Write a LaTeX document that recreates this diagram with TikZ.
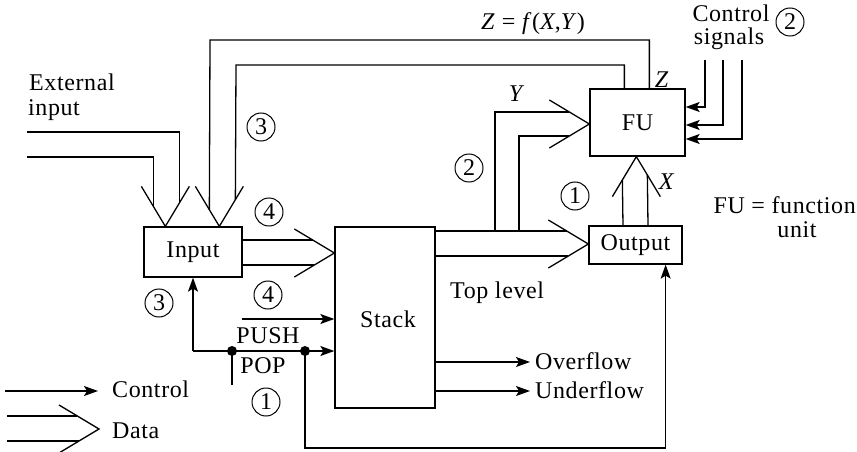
\documentclass[tikz,border=0pt]{standalone}
\usepackage{fontspec}
\setmainfont{Liberation Serif}[LetterSpace=2.5]
\usetikzlibrary{arrows.meta,calc}
\begin{document}
\begin{tikzpicture}[x=1pt,y=-1pt,
  every node/.style={font=\fontsize{24}{24}\selectfont},
  ln/.style={line width=1.3pt},
  ctl/.style={ln,-{Stealth[length=14pt,width=10pt,inset=3pt]}},
  box/.style={draw,line width=1.3pt,inner sep=0pt},
  circ/.style={draw,circle,line width=1pt,minimum size=28pt,inner sep=0pt},
  txt/.style={inner sep=0pt}]
\useasboundingbox (0,0) rectangle (857,452);

% ---- blocks
\node[box,minimum width=98pt,minimum height=50pt] (input) at (193,252) {Input};
\node[box,minimum width=100pt,minimum height=181pt] (stack) at (385,317.5) {};
\node[txt] (stacklbl) at (388,319) {Stack};
\node[box,minimum width=93pt,minimum height=38pt] (output) at (635.5,245) {Output};
\node[box,minimum width=95pt,minimum height=67pt] (fu) at (637.5,122.5) {FU};

% ---- external input (data)
\coordinate (ext1) at (27,132);
\coordinate (ext2) at (27,157);
\coordinate (vA) at ($(input.north west)+(22,0)$);
\draw[ln] ($(vA)+(-24,-40)$) -- (vA) -- ($(vA)+(24,-40)$);
\draw[ln] (ext1) -| ($(vA)+(14,-23.3)$);
\draw[ln] (ext2) -| ($(vA)+(-12,-20)$);

% ---- Z feedback from FU to Input (data)
\coordinate (vB) at ($(input.north west)+(76,0)$);
\draw[ln] ($(vB)+(-24,-40)$) -- (vB) -- ($(vB)+(24,-40)$);
\draw[ln] ($(fu.north west)+(60,0)$) |- (210,40) -- ($(vB)+(-10,-16.7)$);
\draw[ln] ($(fu.north west)+(35,0)$) |- (236,65) -- ($(vB)+(16,-26.7)$);

% ---- Input -> Stack (data)
\coordinate (vC) at (stack.west |- 0,253);
\draw[ln] ($(vC)+(-40,-24)$) -- (vC) -- ($(vC)+(-40,24)$);
\draw[ln] (input.east |- 0,240) -- ($(vC)+(-21.7,-13)$);
\draw[ln] (input.east |- 0,265) -- ($(vC)+(-20,12)$);

% ---- Stack -> Output (data)
\coordinate (vD) at (output.west |- 0,244);
\draw[ln] ($(vD)+(-40,-24)$) -- (vD) -- ($(vD)+(-40,24)$);
\draw[ln] (stack.east |- 0,231) -- ($(vD)+(-21.7,-13)$);
\draw[ln] (stack.east |- 0,256) -- ($(vD)+(-20,12)$);

% ---- Y to FU (data)
\coordinate (vE) at (fu.west |- 0,124);
\coordinate (jy1) at (495,231);
\coordinate (jy2) at (519,231);
\draw[ln] ($(vE)+(-40,-24)$) -- (vE) -- ($(vE)+(-40,24)$);
\draw[ln] (jy1) |- ($(vE)+(-20,-12)$);
\draw[ln] (jy2) |- ($(vE)+(-20,12)$);

% ---- X: Output -> FU (data)
\coordinate (vF) at ($(fu.south west)+(47,0)$);
\draw[ln] ($(vF)+(-24,40)$) -- (vF) -- ($(vF)+(24,40)$);
\draw[ln] (output.north -| 623,0) -- ($(vF)+(-14,23.3)$);
\draw[ln] (output.north -| 648,0) -- ($(vF)+(11,18.3)$);

% ---- control signals to FU
\coordinate (cs1) at (705,60);
\coordinate (cs2) at (723,60);
\coordinate (cs3) at (742,60);
\draw[ctl] (cs1) |- (fu.east |- 0,107);
\draw[ctl] (cs2) |- (fu.east |- 0,125);
\draw[ctl] (cs3) |- (fu.east |- 0,139);

% ---- PUSH / POP control
\coordinate (push) at (242,319);
\draw[ctl] (push) -- (stack.west |- push);
\coordinate (j1) at (input.south |- 0,351);
\coordinate (d1) at (232,351);
\coordinate (d2) at (305,351);
\coordinate (popin) at (232,385);
\draw[ctl] (j1) -- (input.south);
\draw[ctl] (j1) -- (stack.west |- j1);
\draw[ln] (popin) -- (d1);
\coordinate (bot) at (305,448);
\draw[ctl] (d2) -- (bot) -| ($(output.south east)+(-17,0)$);
\fill (d1) circle (5);
\fill (d2) circle (5);

% ---- overflow / underflow
\coordinate (ovf) at (530,362);
\coordinate (unf) at (530,391);
\draw[ctl] (stack.east |- ovf) -- (ovf);
\draw[ctl] (stack.east |- unf) -- (unf);

% ---- legend
\coordinate (lc1) at (5,391);
\coordinate (lc2) at (98,391);
\draw[ctl] (lc1) -- (lc2);
\coordinate (vL) at (99,429);
\draw[ln] ($(vL)+(-40,-24)$) -- (vL) -- ($(vL)+(-40,24)$);
\coordinate (ld1) at (7,416);
\coordinate (ld2) at (7,441);
\draw[ln] (ld1) -- ($(vL)+(-21.7,-13)$);
\draw[ln] (ld2) -- ($(vL)+(-20,12)$);

% ---- texts
\node[txt,anchor=base west] (t1) at (29,91) {External};
\node[txt,anchor=base west] (t2) at (28,115) {input};
\node[txt,anchor=base] (t3) at (533,30) {\textit{Z} = \textit{f}(\textit{X},\textit{Y})};
\node[txt,anchor=base] (t4) at (731,21.5) {Control};
\node[txt,anchor=base] (t5) at (729,45) {signals};
\node[txt,anchor=base] (t6) at (662,88) {\textit{Z}};
\node[txt,anchor=base] (t7) at (517,101) {\textit{Y}};
\node[txt,anchor=base] (t8) at (667,189) {\textit{X}};
\node[txt,anchor=base east] (t9) at (856,213) {FU = function};
\node[txt,anchor=base] (t10) at (797,237) {unit};
\node[txt,anchor=base west] (t11) at (450,298) {Top level};
\node[txt,anchor=base west] (t12) at (535,369) {Overflow};
\node[txt,anchor=base west] (t13) at (535,398) {Underflow};
\node[txt,anchor=base] (t14) at (268,343) {PUSH};
\node[txt,anchor=base] (t15) at (263,373) {POP};
\node[txt,anchor=base west] (t16) at (112,397) {Control};
\node[txt,anchor=base west] (t17) at (112,438) {Data};

% ---- circled numbers
\node[circ] (c3a) at (261,127) {3};
\node[circ] (c4a) at (269,212) {4};
\node[circ] (c4b) at (268,295) {4};
\node[circ] (c3b) at (159,303) {3};
\node[circ] (c1a) at (266,402) {1};
\node[circ] (c2a) at (469,168) {2};
\node[circ] (c1b) at (575,196) {1};
\node[circ] (c2b) at (790,22) {2};
\end{tikzpicture}
\end{document}
